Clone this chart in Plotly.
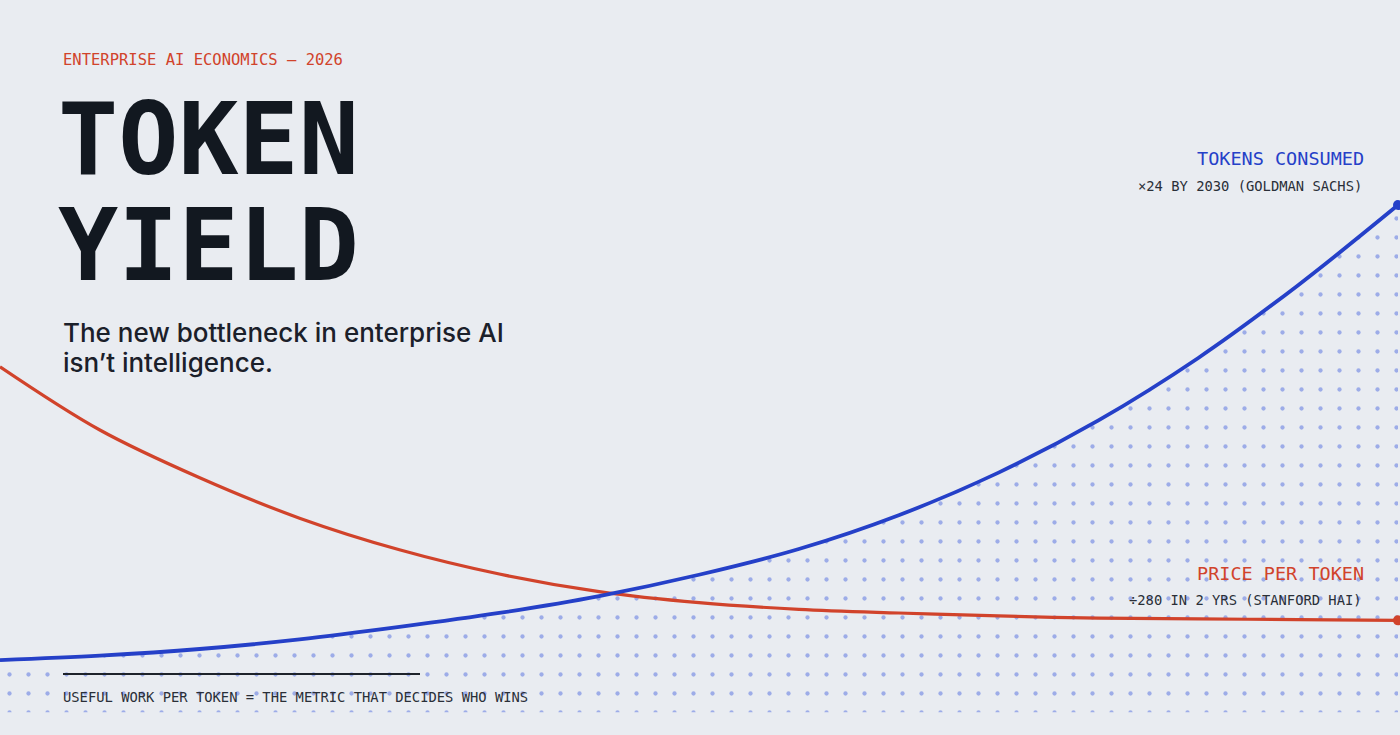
import plotly.graph_objects as go

# ---- data (index values; 0 = bottom, 100 = top of canvas) ----
steps = list(range(15))
tokens_consumed = [10.2, 10.8, 11.7, 13.0, 14.7, 16.6, 18.9, 21.8, 25.3, 29.9, 35.7, 42.8, 51.3, 61.2, 72.1]
price_per_token = [50.1, 41.5, 35.0, 29.5, 25.2, 21.9, 19.5, 18.0, 17.1, 16.6, 16.2, 15.9, 15.8, 15.7, 15.6]
stipple_floor = [3.1] * len(steps)

BG = "#e9ecf1"
BLUE = "#2540c8"
RED = "#d1432b"
INK = "#121820"
MONO = "DejaVu Sans Mono"

W, H = 1400, 735

fig = go.Figure()

# floor for the stipple fill
fig.add_trace(go.Scatter(x=steps, y=stipple_floor, mode="lines",
                         line=dict(width=0, color="rgba(0,0,0,0)"),
                         hoverinfo="skip", showlegend=False))
# stipple under the blue curve
fig.add_trace(go.Scatter(x=steps, y=tokens_consumed, mode="lines",
                         line=dict(width=0, color="rgba(0,0,0,0)", shape="spline"),
                         fill="tonexty", fillcolor="rgba(0,0,0,0)",
                         fillpattern=dict(shape=".", fgcolor="#5f78e0", bgcolor="rgba(0,0,0,0)",
                                          size=19, solidity=0.04, fgopacity=0.55),
                         hoverinfo="skip", showlegend=False))

fig.add_trace(go.Scatter(x=steps, y=price_per_token, mode="lines",
                         line=dict(color=RED, width=3.2, shape="spline"),
                         showlegend=False, name="Price per token"))
fig.add_trace(go.Scatter(x=steps, y=tokens_consumed, mode="lines",
                         line=dict(color=BLUE, width=3.8, shape="spline"),
                         showlegend=False, name="Tokens consumed"))
# end markers
fig.add_trace(go.Scatter(x=[steps[-1]], y=[price_per_token[-1]], mode="markers",
                         marker=dict(color=RED, size=10), showlegend=False))
fig.add_trace(go.Scatter(x=[steps[-1]], y=[tokens_consumed[-1]], mode="markers",
                         marker=dict(color=BLUE, size=10), showlegend=False))


def px(x):
    return x / W


def py(y):
    return 1 - y / H


def txt(x, y, text, size, color, family=MONO, anchor="left", weight="normal", height=None):
    fig.add_annotation(x=px(x), y=py(y), xref="paper", yref="paper", text=text,
                       showarrow=False, xanchor=anchor, yanchor="middle", height=height,
                       font=dict(family=family, size=size, color=color, weight=weight))


txt(61, 60, "ENTERPRISE AI ECONOMICS — 2026", 15.5, RED)
txt(56, 139, "TOKEN", 100, INK, weight="bold", height=94)
txt(56, 245, "YIELD", 100, INK, weight="bold", height=94)
txt(61, 332, "The new bottleneck in enterprise AI", 26, "#1b202a", family="Inter", weight=500)
txt(61, 362, "isn’t intelligence.", 26, "#1b202a", family="Inter", weight=500)

txt(1366, 158, "TOKENS CONSUMED", 18.5, BLUE, anchor="right")
txt(1364, 186, "×24 BY 2030 (GOLDMAN SACHS)", 13.8, "#2a2f38", anchor="right")
txt(1366, 573, "PRICE PER TOKEN", 18.5, RED, anchor="right")
txt(1364, 600, "÷280 IN 2 YRS (STANFORD HAI)", 13.8, "#2a2f38", anchor="right")
txt(61, 697, "USEFUL WORK PER TOKEN = THE METRIC THAT DECIDES WHO WINS", 13.8, "#2a2f38")

fig.add_shape(type="line", xref="paper", yref="paper",
              x0=px(63), x1=px(420), y0=py(674), y1=py(674),
              line=dict(color="#1e232b", width=2))

fig.update_layout(
    width=W, height=H,
    margin=dict(l=0, r=0, t=0, b=0),
    paper_bgcolor=BG, plot_bgcolor=BG,
    xaxis=dict(range=[0, 14.02], visible=False, fixedrange=True),
    yaxis=dict(range=[0, 100], visible=False, fixedrange=True),
    hovermode=False,
)

fig.write_html("out.html", config={"displayModeBar": False},
               post_script="document.body.style.margin='0';document.body.style.background='" + BG + "';")
